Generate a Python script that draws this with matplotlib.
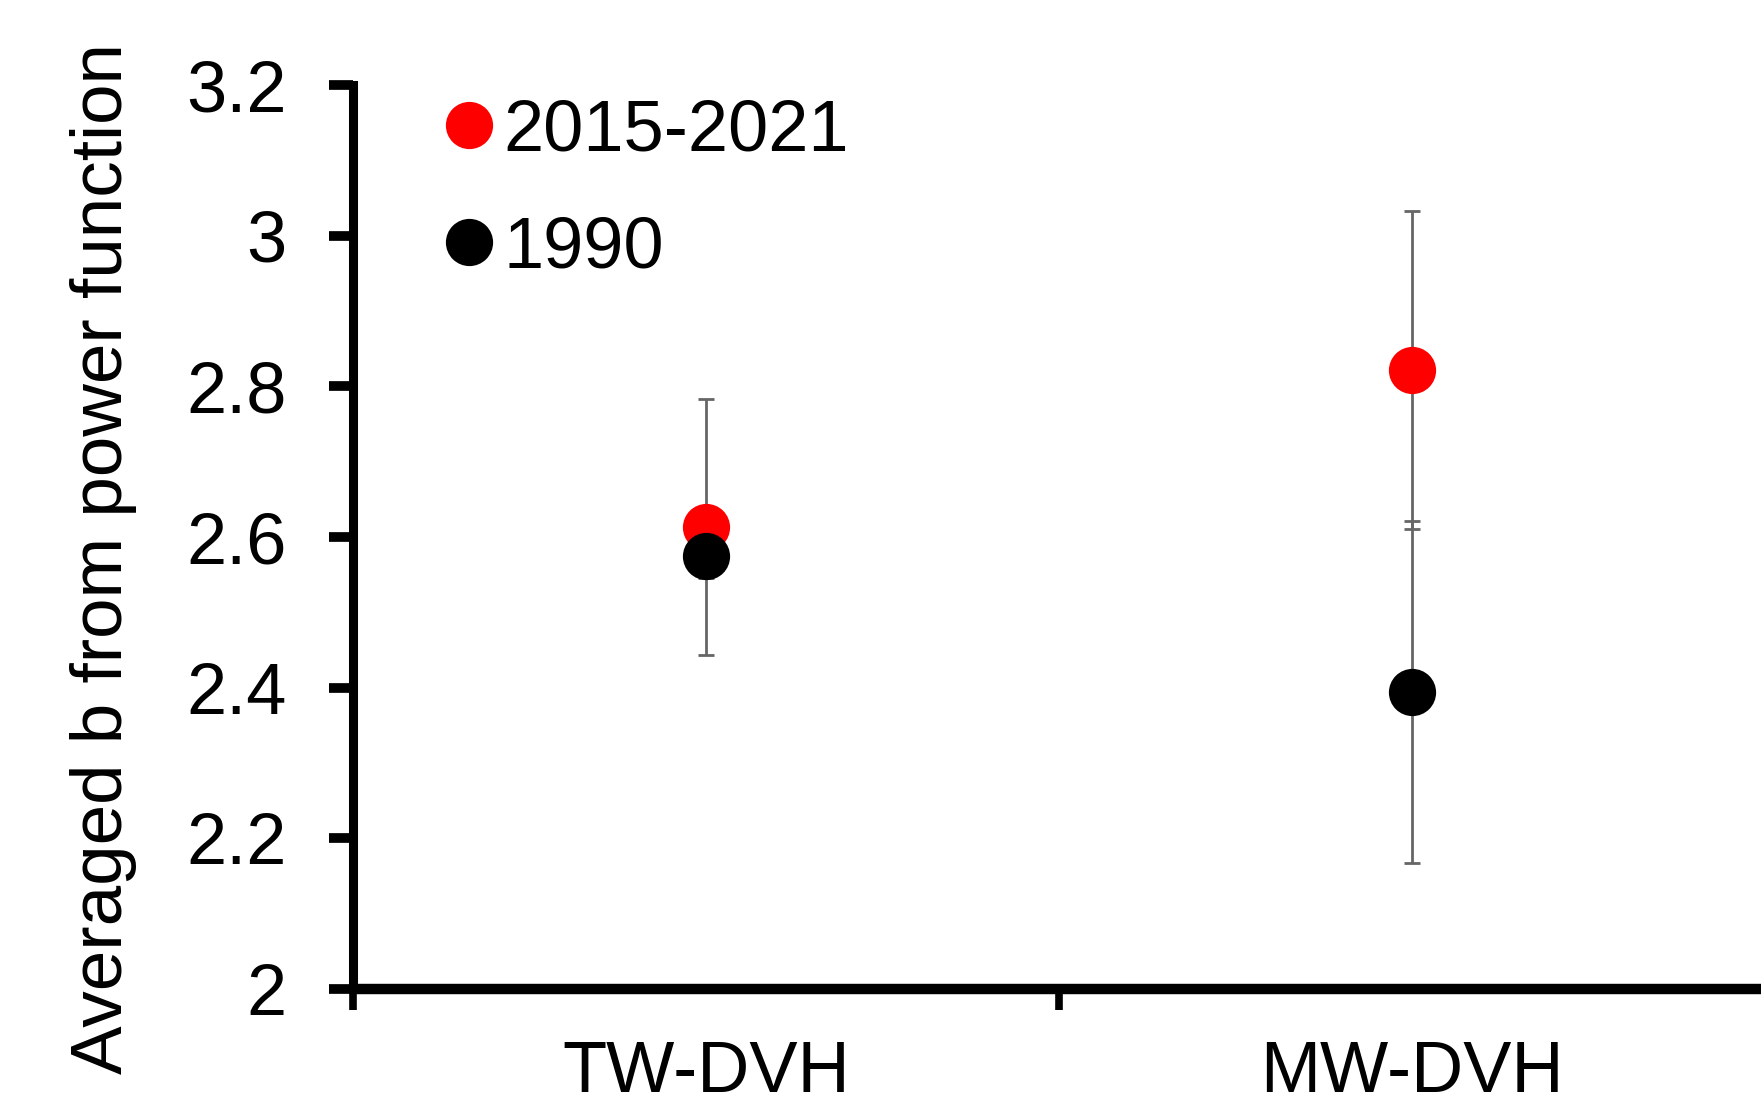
import numpy as np
import matplotlib
matplotlib.use("Agg")
import matplotlib.pyplot as plt
from matplotlib.lines import Line2D

plt.rcParams['font.family'] = ['Liberation Sans', 'DejaVu Sans']

categories = ['TW-DVH', 'MW-DVH']
recent_mean = [2.613, 2.822]   # 2015-2021
recent_err = [0.17, 0.211]
old_mean = [2.575, 2.394]      # 1990
old_err = [0.03, 0.227]
series_labels = ['2015-2021', '1990']

x = np.arange(len(categories)) + 0.5
bar_col = '#666666'

fig = plt.figure(figsize=(17.61, 10.97), dpi=100)
ax = fig.add_axes([353/1761, 1 - 989/1097, 1412/1761, (989 - 85)/1097])

ax.errorbar(x, recent_mean, yerr=recent_err, fmt='none', ecolor=bar_col,
            elinewidth=2.0, capsize=6, capthick=2.0, zorder=2)
ax.errorbar(x, old_mean, yerr=old_err, fmt='none', ecolor=bar_col,
            elinewidth=2.0, capsize=6, capthick=2.0, zorder=2)
ax.plot(x, recent_mean, 'o', color='#ff0000', ms=34, mec='none', zorder=3)
ax.plot(x, old_mean, 'o', color='black', ms=34, mec='none', zorder=4)

ax.set_xlim(0, 2)
ax.set_ylim(2, 3.2)
ax.set_yticks([2, 2.2, 2.4, 2.6, 2.8, 3, 3.2])
ax.set_yticklabels(['2', '2.2', '2.4', '2.6', '2.8', '3', '3.2'])
ax.set_xticks([0, 1, 2])
ax.set_xticklabels([])
ax.set_xticks(x, minor=True)
ax.set_xticklabels(categories, minor=True)

ax.spines['top'].set_visible(False)
ax.spines['right'].set_visible(False)
ax.spines['left'].set_linewidth(6.5)
ax.spines['bottom'].set_linewidth(7.5)
ax.spines['left'].set_capstyle('projecting')
ax.spines['bottom'].set_capstyle('butt')
ax.tick_params(axis='y', direction='out', length=17, width=7, pad=31, labelsize=52)
ax.tick_params(axis='x', which='major', direction='out', length=15, width=5.5)
ax.tick_params(axis='x', which='minor', length=0, pad=37, labelsize=52)

fig.text(104/1761, 1 - 558/1097, 'Averaged b from power function', rotation=90,
         ha='center', va='center', fontsize=52.5)

handles = [Line2D([], [], ls='none', marker='o', ms=34, color=c, mec='none')
           for c in ['#ff0000', 'black']]
ax.legend(handles, series_labels, loc='upper left', bbox_to_anchor=(94/1412, 0.985),
          frameon=False, fontsize=52, handlelength=0.6, handletextpad=0.18,
          labelspacing=0.69, borderaxespad=0, borderpad=0)

fig.savefig('out.png', dpi=100)
